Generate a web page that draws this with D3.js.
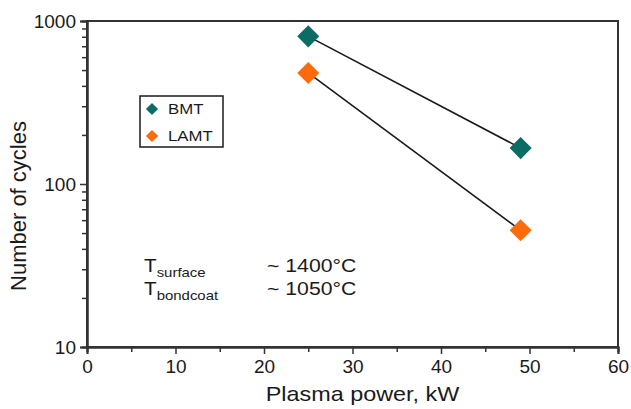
<!DOCTYPE html>
<html>
<head>
<meta charset="utf-8">
<script src="https://cdn.jsdelivr.net/npm/d3@7"></script>
<style>
  body { margin: 0; background: #fff; }
  text { font-family: "Liberation Sans", Arial, sans-serif; fill: #1a1a1a; }
</style>
</head>
<body>
<svg id="chart"></svg>
<script>
// data
var series = ["BMT", "LAMT"];
var power = [25, 49];
var bmtCycles = [805, 166];
var lamtCycles = [480, 52];
var colors = ["#0b6b65", "#ff6a0a"];
var xTicks = [0, 10, 20, 30, 40, 50, 60];
var yTicks = [10, 100, 1000];

var width = 631, height = 409;
var margin = {left: 87, top: 21, right: 13, bottom: 62};

var svg = d3.select("#chart").attr("width", width).attr("height", height);

var x = d3.scaleLinear().domain([0, 60]).range([margin.left, width - margin.right]);
var y = d3.scaleLog().domain([10, 1000]).range([height - margin.bottom, margin.top]);

// frame
svg.append("rect")
  .attr("x", x(0)).attr("y", y(1000))
  .attr("width", x(60) - x(0)).attr("height", y(10) - y(1000))
  .attr("fill", "none").attr("stroke", "#333").attr("stroke-width", 2);

// x axis, major and minor ticks
var xAxis = d3.axisBottom(x).tickValues(xTicks).tickSize(7).tickPadding(6).tickFormat(d3.format("d"));
svg.append("g").attr("transform", "translate(0," + y(10) + ")").call(xAxis);
svg.append("g").attr("transform", "translate(0," + y(10) + ")")
  .call(d3.axisBottom(x).tickValues([5, 15, 25, 35, 45, 55]).tickSize(5).tickFormat(""));

// y axis, log ticks
var minor = [];
[10, 100].forEach(function(d) { for (var i = 2; i < 10; i++) minor.push(d * i); });
svg.append("g").attr("transform", "translate(" + x(0) + ",0)")
  .call(d3.axisLeft(y).tickValues(yTicks).tickSize(7).tickPadding(4).tickFormat(d3.format("d")));
svg.append("g").attr("transform", "translate(" + x(0) + ",0)")
  .call(d3.axisLeft(y).tickValues(minor).tickSize(5).tickFormat(""));

svg.selectAll(".domain").attr("stroke", "#333").attr("stroke-width", 2);
svg.selectAll(".tick line").attr("stroke", "#333").attr("stroke-width", 1.5);
svg.selectAll(".tick text").style("font-size", "19px").attr("fill", "#1a1a1a");

// axis titles (the original is a bit stretched sideways)
svg.append("text")
  .attr("transform", "translate(" + ((x(0) + x(60)) / 2 + 10) + ",401)scale(1.17,1)")
  .attr("text-anchor", "middle").style("font-size", "20px")
  .text("Plasma power, kW");
svg.append("text")
  .attr("transform", "translate(26," + 206 + ")rotate(-90)")
  .attr("text-anchor", "middle").style("font-size", "22px")
  .text("Number of cycles");

// lines and markers
var data = [bmtCycles, lamtCycles];
var line = d3.line().x(function(d, i) { return x(power[i]); }).y(function(d) { return y(d); });
var diamond = d3.symbol().type(d3.symbolDiamond2);

data.forEach(function(vals, s) {
  svg.append("path").datum(vals).attr("d", line)
    .attr("fill", "none").attr("stroke", "#1a1a1a").attr("stroke-width", 1.6);
  svg.selectAll(".m" + s).data(vals).enter().append("path")
    .attr("transform", function(d, i) { return "translate(" + x(power[i]) + "," + y(d) + ")"; })
    .attr("d", diamond.size(310))
    .attr("fill", colors[s]);
});

// legend
var legend = svg.append("g").attr("transform", "translate(140,96)");
legend.append("rect").attr("width", 83).attr("height", 51)
  .attr("fill", "#fff").attr("stroke", "#1a1a1a").attr("stroke-width", 1.5);
series.forEach(function(name, i) {
  legend.append("path")
    .attr("transform", "translate(12," + (13 + i * 27) + ")")
    .attr("d", d3.symbol().type(d3.symbolDiamond2).size(95))
    .attr("fill", colors[i]);
  legend.append("text")
    .attr("transform", "translate(28," + (18 + i * 27) + ")scale(1.12,1)")
    .style("font-size", "15px").text(name);
});

// annotation
var notes = [["T", "surface", "~ 1400°C"], ["T", "bondcoat", "~ 1050°C"]];
notes.forEach(function(n, i) {
  var by = 272 + i * 23;
  var t = svg.append("text").attr("transform", "translate(144," + by + ")scale(1.15,1)")
    .style("font-size", "18px");
  t.append("tspan").text(n[0]);
  t.append("tspan").attr("dy", 5).style("font-size", "13px").text(n[1]);
  svg.append("text").attr("transform", "translate(267," + by + ")scale(1.18,1)")
    .style("font-size", "18px").text(n[2]);
});
</script>
</body>
</html>
